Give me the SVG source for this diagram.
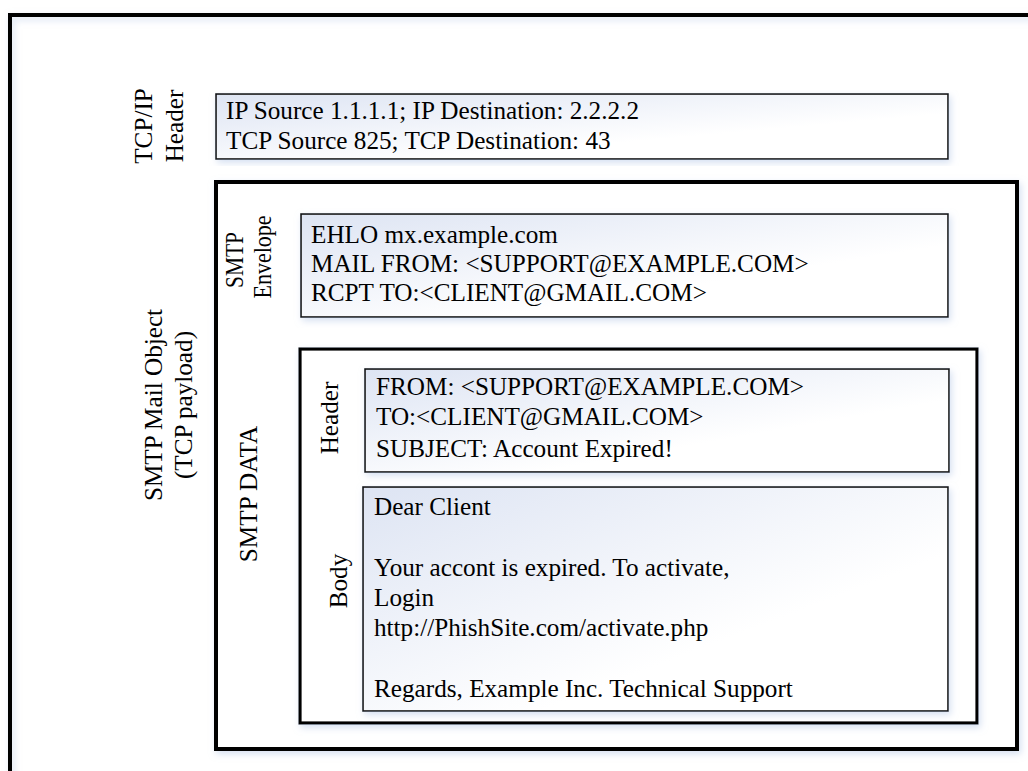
<svg xmlns="http://www.w3.org/2000/svg" width="1028" height="771" viewBox="0 0 1028 771">
<style>
text{font-family:"Liberation Serif","Times New Roman",serif;fill:#000}
.t{font-size:25.2px}
.thin{stroke:#111;stroke-width:1.6;fill:url(#g)}
.thick{stroke:#000;stroke-width:4;fill:#fff}
.mid{stroke:#000;stroke-width:3.2;fill:#fff}
.lab{text-anchor:middle}
</style>
<defs>
<linearGradient id="g" x1="0" y1="0" x2="1" y2="1">
<stop offset="0" stop-color="#dde4f3"/>
<stop offset="0.65" stop-color="#ffffff"/>
<stop offset="1" stop-color="#ffffff"/>
</linearGradient>
<filter id="sh" x="-5%" y="-5%" width="115%" height="115%">
<feDropShadow dx="2" dy="3" stdDeviation="3.5" flood-color="#b3c6e6" flood-opacity="0.55"/>
</filter>
</defs>
<rect width="1028" height="771" fill="#fff"/>
<g id="frame">
<path d="M10 775 V15 H1032" fill="none" stroke="#000" stroke-width="4" filter="url(#sh)"/>
</g>
<g id="tcpip">
<rect class="thin" x="216" y="94" width="732" height="65" filter="url(#sh)"/>
<text class="t" x="226" y="119">IP Source 1.1.1.1; IP Destination: 2.2.2.2</text>
<text class="t" x="226" y="149">TCP Source 825; TCP Destination: 43</text>
<text class="t lab" transform="translate(152 126) rotate(-90)">TCP/IP</text>
<text class="t lab" transform="translate(183 126) rotate(-90)">Header</text>
</g>
<g id="mailobject">
<rect class="thick" x="216" y="182" width="801" height="567" filter="url(#sh)"/>
<text class="t lab" transform="translate(162 405) rotate(-90)">SMTP Mail Object</text>
<text class="t lab" transform="translate(192 405) rotate(-90)">(TCP payload)</text>
</g>
<g id="envelope">
<rect class="thin" x="301" y="214" width="647" height="103" filter="url(#sh)"/>
<text class="t" x="311" y="243">EHLO mx.example.com</text>
<text class="t" x="311" y="272">MAIL FROM: &lt;SUPPORT@EXAMPLE.COM&gt;</text>
<text class="t" x="311" y="301">RCPT TO:&lt;CLIENT@GMAIL.COM&gt;</text>
<text class="lab" style="font-size:26px" textLength="56" lengthAdjust="spacingAndGlyphs" transform="translate(243 260) rotate(-90)">SMTP</text>
<text class="lab" style="font-size:25px" textLength="83" lengthAdjust="spacingAndGlyphs" transform="translate(271 257) rotate(-90)">Envelope</text>
</g>
<g id="smtpdata">
<rect class="mid" x="300" y="349" width="677" height="374" filter="url(#sh)"/>
<text class="t lab" transform="translate(257 494) rotate(-90)">SMTP DATA</text>
</g>
<g id="header">
<rect class="thin" x="365" y="369" width="584" height="103" filter="url(#sh)"/>
<text class="t" x="376" y="395">FROM: &lt;SUPPORT@EXAMPLE.COM&gt;</text>
<text class="t" x="376" y="425">TO:&lt;CLIENT@GMAIL.COM&gt;</text>
<text class="t" x="376" y="457">SUBJECT: Account Expired!</text>
<text class="t lab" transform="translate(338 418) rotate(-90)">Header</text>
</g>
<g id="body">
<rect class="thin" x="363" y="487" width="585" height="224" filter="url(#sh)"/>
<text class="t" x="374" y="515">Dear Client</text>
<text class="t" x="374" y="576">Your accont is expired. To activate,</text>
<text class="t" x="374" y="606">Login</text>
<text class="t" x="374" y="636">http://PhishSite.com/activate.php</text>
<text class="t" x="374" y="697">Regards, Example Inc. Technical Support</text>
<text class="t lab" transform="translate(347 581) rotate(-90)">Body</text>
</g>
<g id="connectors"></g>
</svg>
